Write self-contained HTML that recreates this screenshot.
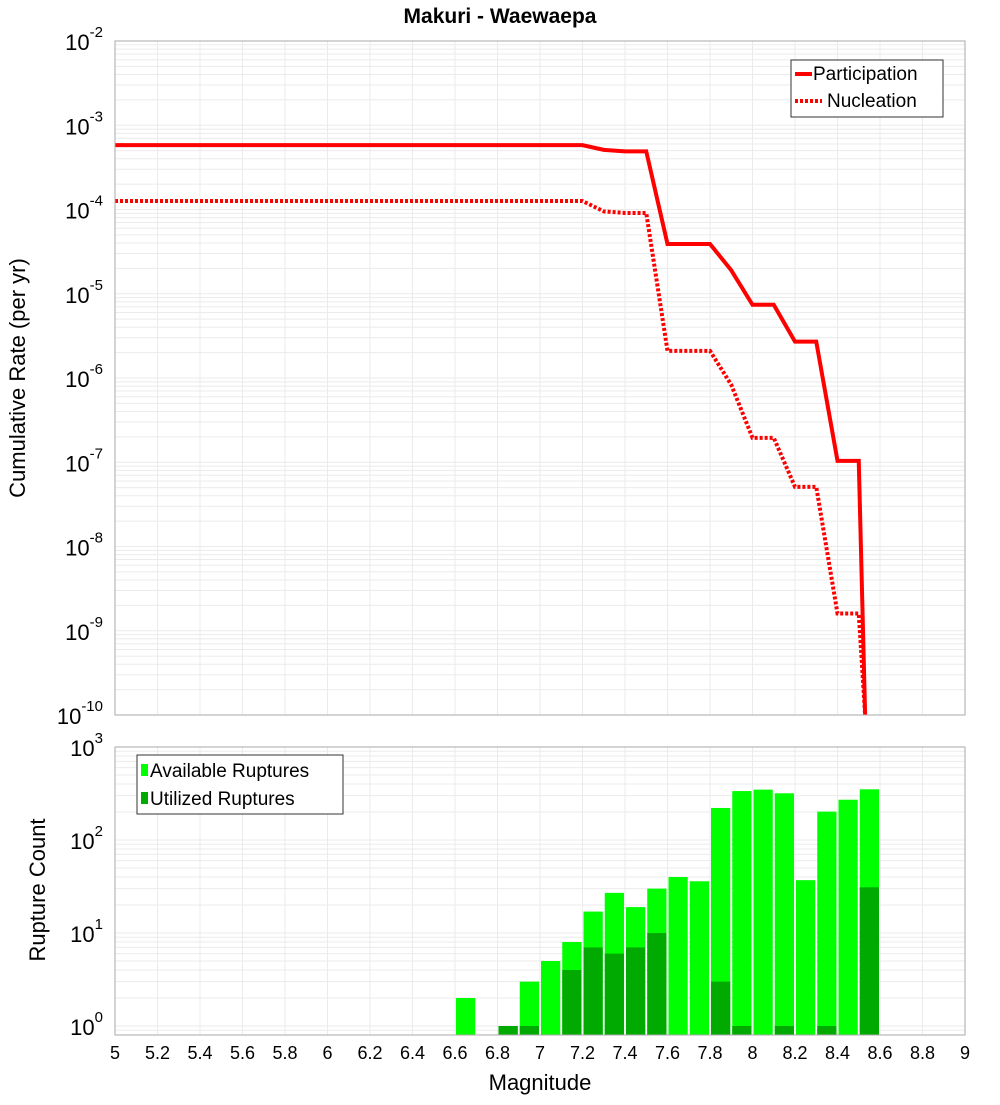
<!DOCTYPE html>
<html><head><meta charset="utf-8"><style>
body{margin:0;background:#fff;}
svg{font-family:"Liberation Sans","DejaVu Sans",sans-serif;}
</style></head><body>
<svg id="c" width="1000" height="1100" xmlns="http://www.w3.org/2000/svg">
<text x="500" y="23" text-anchor="middle" font-size="21" font-weight="bold">Makuri - Waewaepa</text>
<g id="top"></g>
<g id="bot"></g>
<text transform="translate(25,378) rotate(-90)" text-anchor="middle" font-size="22">Cumulative Rate (per yr)</text>
<text transform="translate(45,890) rotate(-90)" text-anchor="middle" font-size="22">Rupture Count</text>
<text x="540" y="1090" text-anchor="middle" font-size="22">Magnitude</text>
</svg>
<script>
const partMags=[5.0,7.2,7.3,7.4,7.5,7.6,7.7,7.8,7.9,8.0,8.1,8.2,8.3,8.4,8.5,8.53];
const partRates=[5.8e-4,5.8e-4,5.1e-4,4.9e-4,4.9e-4,3.9e-5,3.9e-5,3.9e-5,1.9e-5,7.4e-6,7.4e-6,2.7e-6,2.7e-6,1.04e-7,1.04e-7,1e-10];
const nuclMags=[5.0,7.2,7.3,7.4,7.5,7.6,7.7,7.8,7.9,8.0,8.1,8.2,8.3,8.4,8.5,8.53];
const nuclRates=[1.26e-4,1.26e-4,9.5e-5,9.1e-5,9.1e-5,2.1e-6,2.1e-6,2.1e-6,8.3e-7,1.95e-7,1.95e-7,5.1e-8,5.1e-8,1.6e-9,1.6e-9,1e-10];
const binStarts=[6.6,6.8,6.9,7.0,7.1,7.2,7.3,7.4,7.5,7.6,7.7,7.8,7.9,8.0,8.1,8.2,8.3,8.4,8.5];
const available=[2,1,3,5,8,17,27,19,30,40,36,221,336,348,318,37,202,271,351];
const utilized=[0,1,1,0,4,7,6,7,10,0,0,3,1,0,1,0,1,0,31];
const xTicks=[5,5.2,5.4,5.6,5.8,6,6.2,6.4,6.6,6.8,7,7.2,7.4,7.6,7.8,8,8.2,8.4,8.6,8.8,9];
const NS="http://www.w3.org/2000/svg";
const X0=115,X1=965;
const x=m=>X0+(m-5)/4*(X1-X0);
const yT=v=>41+(-2-Math.log10(v))*84.25;
const yB=v=>1026-Math.log10(v)*93;
function mk(p,t,a){const e=document.createElementNS(NS,t);for(const k in a)e.setAttribute(k,a[k]);p.appendChild(e);return e;}
const topG=document.getElementById('top'),botG=document.getElementById('bot');
function grid(g,yt,y0,y1,dmin,dmax){
 for(let d=dmin;d<dmax;d++)for(let k=1;k<10;k++){const yy=yt(k*Math.pow(10,d));if(yy<y0||yy>y1)continue;
  const l=mk(g,'line',{x1:X0,x2:X1,y1:yy,y2:yy,stroke:'#ebebeb','stroke-width':1});
  
  }
 xTicks.forEach(m=>{const l=mk(g,'line',{x1:x(m),x2:x(m),y1:y0,y2:y1,stroke:'#ebebeb','stroke-width':1});
  
  });
}
grid(topG,yT,41,715,-10,-2);
grid(botG,yB,747,1035,-1,3);
for(let d=-2;d>=-10;d--){const t=mk(topG,'text',{x:103,y:yT(Math.pow(10,d))+9,'text-anchor':'end','font-size':22});
 
 
 t.textContent='10';const s=mk(t,'tspan',{dy:-13,'font-size':15});s.textContent=String(d);}
for(let d=0;d<=3;d++){const t=mk(botG,'text',{x:103,y:yB(Math.pow(10,d))+9,'text-anchor':'end','font-size':22});
 
 
 t.textContent='10';const s=mk(t,'tspan',{dy:-13,'font-size':15});s.textContent=String(d);}
function line(ms,vs,dash,name){const pts=ms.map((m,i)=>x(m)+','+Math.min(715,yT(vs[i]))).join(' ');
 const a={points:pts,fill:'none',stroke:'#ff0000','stroke-width':4};if(dash)a['stroke-dasharray']='3,2';
 const p=mk(topG,'polyline',a);
 
 }
line(partMags,partRates,false,'participation-line');
line(nuclMags,nuclRates,true,'nucleation-line');
mk(topG,'rect',{x:X0,y:41,width:X1-X0,height:674,fill:'none',stroke:'#aaa'});
binStarts.forEach((m,i)=>{
 const bx=x(m)+1,bw=x(m+0.1)-x(m)-2;
 if(available[i]>0){const yy=yB(available[i]);const r=mk(botG,'rect',{x:bx,y:yy,width:bw,height:1035-yy,fill:'#00ff00'});
  
  }
 if(utilized[i]>0){const yy=yB(utilized[i]);const r=mk(botG,'rect',{x:bx,y:yy,width:bw,height:1035-yy,fill:'#00aa00'});
  
  }
});
mk(botG,'rect',{x:X0,y:747,width:X1-X0,height:288,fill:'none',stroke:'#aaa'});
xTicks.forEach(m=>{const t=mk(botG,'text',{x:x(m),y:1059,'text-anchor':'middle','font-size':18});
 
 
 t.textContent=String(m);});
const lg=mk(topG,'g',{});


mk(lg,'rect',{x:791,y:60,width:152,height:57,fill:'#fff',stroke:'#333'});
mk(lg,'line',{x1:795,x2:812,y1:74,y2:74,stroke:'#f00','stroke-width':4});
mk(lg,'line',{x1:795,x2:822,y1:101,y2:101,stroke:'#f00','stroke-width':4,'stroke-dasharray':'3,2'});
let tx=mk(lg,'text',{x:813,y:80,'font-size':19});tx.textContent='Participation';
tx=mk(lg,'text',{x:827,y:107,'font-size':19});tx.textContent='Nucleation';
const lb=mk(botG,'g',{});


mk(lb,'rect',{x:137,y:755,width:206,height:59,fill:'#fff',stroke:'#333'});
mk(lb,'rect',{x:141,y:764,width:7,height:12,fill:'#00ff00'});
mk(lb,'rect',{x:141,y:792,width:7,height:12,fill:'#00aa00'});
tx=mk(lb,'text',{x:150,y:777,'font-size':19});tx.textContent='Available Ruptures';
tx=mk(lb,'text',{x:150,y:805,'font-size':19});tx.textContent='Utilized Ruptures';
</script>
</body></html>
